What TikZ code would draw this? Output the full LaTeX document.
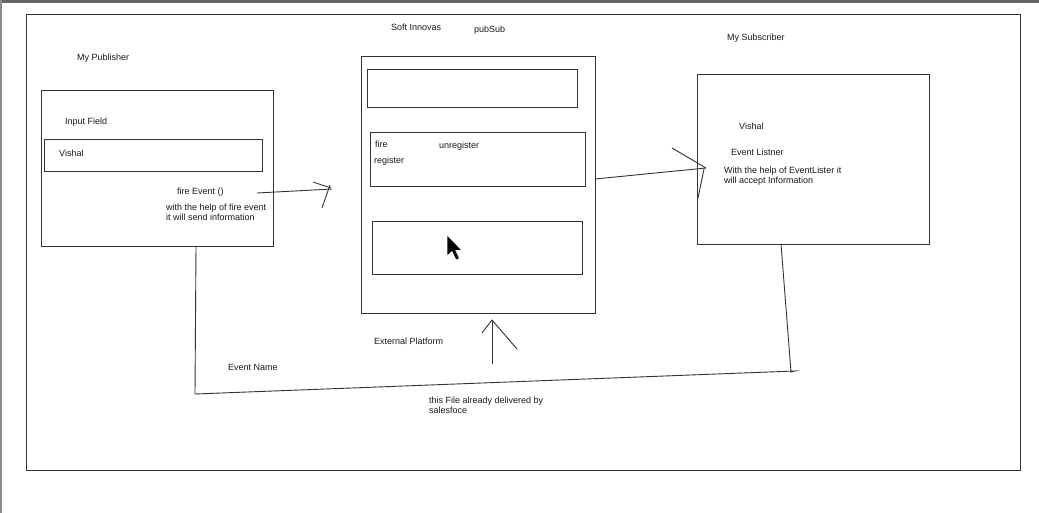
\documentclass[tikz,border=0pt]{standalone}
\usepackage{fontspec}
\setmainfont{Liberation Sans}

\begin{document}
\begin{tikzpicture}[x=1pt, y=-1pt,
	box/.style = {draw=black!80, line width=0.9pt, inner sep=0pt, anchor=north west},
	lbl/.style = {anchor=west, inner sep=0pt, text=black!90,
		font=\fontsize{9}{10.5}\selectfont, align=left},
	pen/.style = {draw=black!80, line width=0.9pt}]
			% We will draw the screen and the whiteboard here
			\useasboundingbox (0,0) rectangle (1039,513);
			\fill[white] (0,0) rectangle (1039,513);
			\draw[black!60, line width=3pt] (0,1.5) -- (1039,1.5);
			\draw[black!45, line width=1.2pt] (1,0) -- (1,513);
			\node[box, minimum width=994, minimum height=456] (board) at (26,14) {};
			
			% titles
			\node[lbl] (pubTitle) at (77,58) {My Publisher};
			\node[lbl] (softTitle) at (391,27) {Soft Innovas};
			\node[lbl] (pubSubTitle) at (474,30) {pubSub};
			\node[lbl] (subTitle) at (727,38) {My Subscriber};
			
			% publisher
			\node[box, minimum width=232, minimum height=156] (publisher) at (41,90) {};
			\node[lbl] (inputLbl) at (65,122) {Input Field};
			\node[box, minimum width=218, minimum height=32] (inputField) at (44,139) {};
			\node[lbl] (pubName) at (59,153) {Vishal};
			\node[lbl] (fireLbl) at (177,192) {fire Event ()};
			\node[lbl] (fireNote) at (166,212.5) {with the help of fire event\\it will send information};
			
			% pubSub component
			\node[box, minimum width=234, minimum height=257] (broker) at (361,56) {};
			\node[box, minimum width=210, minimum height=38] (slotA) at (367,69) {};
			\node[box, minimum width=215, minimum height=54] (slotB) at (370,132) {};
			\node[box, minimum width=210, minimum height=53] (slotC) at (372,221) {};
			\node[lbl] (fireFn) at (375,144) {fire};
			\node[lbl] (unregFn) at (439,146) {unregister};
			\node[lbl] (regFn) at (374,161) {register};
			\node[lbl] (extLbl) at (374,341) {External Platform};
			
			% mouse pointer
			\filldraw[black, draw=white, line width=0.6pt, shift={(447,235)}]
				(0,0) -- (0,21) -- (5,16.5) -- (9,25) -- (12.5,23.5) -- (8.8,15.5) -- (15,15.5) -- cycle;
			
			% subscriber
			\node[box, minimum width=232, minimum height=170] (subscriber) at (697,74) {};
			\node[lbl] (subName) at (739,126) {Vishal};
			\node[lbl] (listnerLbl) at (731,152) {Event Listner};
			\node[lbl] (listnerNote) at (724,176) {With the help of EventLister it\\will accept Information};
			
			% bottom notes
			\node[lbl] (eventName) at (228,367) {Event Name};
			\node[lbl] (sfNote) at (429,405.5) {this File already delivered by\\salesfoce};
			
			% hand drawn connectors
			\coordinate (pubOut) at (257,193);
			\coordinate (brokerIn) at (332,189);
			\coordinate (brokerOut) at (595,179);
			\coordinate (subIn) at (706,168);
			\coordinate (subDown) at (781,244);
			\coordinate (loopR) at (791,372);
			\coordinate (loopL) at (195,394);
			\coordinate (pubDown) at (196,246);
			\coordinate (sfBase) at (492,364);
			\coordinate (sfTip) at (492,320);
			
			\draw[pen] (pubOut) -- (brokerIn);
			\draw[pen] (313,182) -- (331,188);
			\draw[pen] (330,185) -- (322,208);
			
			\draw[pen] (brokerOut) -- (subIn);
			\draw[pen] (672,148) -- (subIn);
			\draw[pen] (704,169) -- (698,198);
			
			\draw[pen] (subDown) -- (loopR) -- (795,371) -- (loopL) -- (pubDown);
			
			\draw[pen] (sfBase) -- (sfTip);
			\draw[pen] (482,333) -- (sfTip) -- (517,349);
			
		\end{tikzpicture}
\end{document}
